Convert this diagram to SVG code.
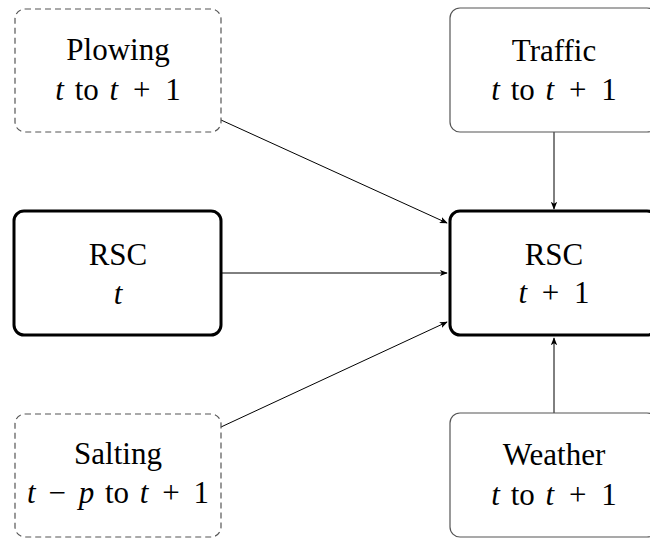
<svg xmlns="http://www.w3.org/2000/svg" width="650" height="539" viewBox="0 0 650 539">
<style>
  .dash { fill: #fff; stroke: #555; stroke-width: 1.2; stroke-dasharray: 6 4; }
  .thin { fill: #fff; stroke: #555; stroke-width: 1.2; }
  .thick { fill: #fff; stroke: #000; stroke-width: 3; }
  .lbl { font-size: 31px; fill: #000; text-anchor: middle; word-spacing: 3px; }
  .i { font-style: italic; }
  .edge { stroke: #000; stroke-width: 1; fill: none; marker-end: url(#arr); }
</style>
<defs>
  <marker id="arr" viewBox="0 0 10 10" refX="9" refY="5" markerWidth="8" markerHeight="8" markerUnits="userSpaceOnUse" orient="auto">
    <path d="M0,1 L10,5 L0,9 L2.5,5 Z" fill="#000"/>
  </marker>
</defs>
<g id="connectors">
  <line class="edge" x1="221" y1="120" x2="447" y2="223"/>
  <line class="edge" x1="221" y1="273" x2="447" y2="273"/>
  <line class="edge" x1="221" y1="427" x2="447" y2="322"/>
  <line class="edge" x1="554" y1="132" x2="554" y2="209"/>
  <line class="edge" x1="554" y1="413" x2="554" y2="338"/>
</g>
<g font-family="'Liberation Serif', Tinos, 'Times New Roman', 'DejaVu Serif', serif">
<g id="plowing">
  <rect class="dash" x="15" y="9" width="206" height="123" rx="10"/>
  <text class="lbl" x="118" y="60">Plowing</text>
  <text class="lbl" x="118" y="100"><tspan class="i">t</tspan> to <tspan class="i">t</tspan> <tspan dx="4">+</tspan> <tspan dx="4">1</tspan></text>
</g>
<g id="traffic">
  <rect class="thin" x="450" y="8" width="207" height="124" rx="10"/>
  <text class="lbl" x="554" y="61">Traffic</text>
  <text class="lbl" x="554" y="100"><tspan class="i">t</tspan> to <tspan class="i">t</tspan> <tspan dx="4">+</tspan> <tspan dx="4">1</tspan></text>
</g>
<g id="rsc_t">
  <rect class="thick" x="14" y="211" width="207" height="124" rx="10"/>
  <text class="lbl" x="118" y="265">RSC</text>
  <text class="lbl i" x="118" y="304">t</text>
</g>
<g id="rsc_t1">
  <rect class="thick" x="450" y="211" width="207" height="124" rx="10"/>
  <text class="lbl" x="554" y="265">RSC</text>
  <text class="lbl" x="554" y="303"><tspan class="i">t</tspan> <tspan dx="4">+</tspan> <tspan dx="4">1</tspan></text>
</g>
<g id="salting">
  <rect class="dash" x="15" y="414" width="206" height="123" rx="10"/>
  <text class="lbl" x="118" y="464">Salting</text>
  <text class="lbl" x="118" y="503"><tspan class="i">t</tspan> <tspan dx="2">−</tspan> <tspan class="i" dx="2">p</tspan> to <tspan class="i">t</tspan> <tspan dx="3">+</tspan> <tspan dx="3">1</tspan></text>
</g>
<g id="weather">
  <rect class="thin" x="450" y="413" width="207" height="124" rx="10"/>
  <text class="lbl" x="554" y="465">Weather</text>
  <text class="lbl" x="554" y="505"><tspan class="i">t</tspan> to <tspan class="i">t</tspan> <tspan dx="4">+</tspan> <tspan dx="4">1</tspan></text>
</g>
</g>
</svg>
